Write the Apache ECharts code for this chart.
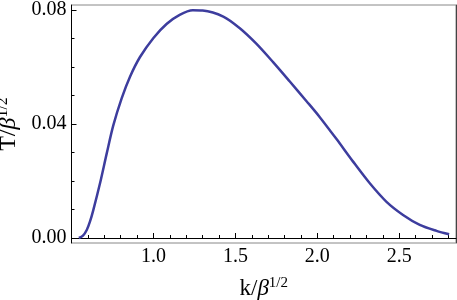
<!DOCTYPE html>
<html><head><meta charset="utf-8">
<script src="https://cdn.jsdelivr.net/npm/echarts@6/dist/echarts.min.js"></script>
<style>html,body{margin:0;padding:0;background:#fff}#c{width:457px;height:300px}</style>
</head><body><div id="c"></div>
<script>
// k / beta^(1/2)
const kValues = [0.545,0.57,0.593,0.613,0.633,0.674,0.715,0.755,0.806,0.857,0.918,1.00,1.08,1.16,1.24,1.30,1.426,1.527,1.629,1.73,1.832,1.934,2.015,2.117,2.218,2.32,2.422,2.523,2.625,2.727,2.804];
// T / beta^(1/2)
const tValues = [0.0000,0.0008,0.0028,0.0058,0.0098,0.0192,0.0297,0.0395,0.0490,0.0566,0.0635,0.0702,0.0751,0.0783,0.0799,0.0798,0.0777,0.0736,0.0681,0.0617,0.0549,0.0480,0.0424,0.0347,0.0268,0.0192,0.0127,0.0081,0.0046,0.0025,0.0013];
const xMajorTicks = [1.0,1.5,2.0,2.5];
const xMinorTicks = [0.6,0.7,0.8,0.9,1.1,1.2,1.3,1.4,1.6,1.7,1.8,1.9,2.1,2.2,2.3,2.4,2.6,2.7,2.8];
const yMajorTicks = [0.00,0.04,0.08];
const yMinorTicks = [0.01,0.02,0.03,0.05,0.06,0.07];

const X_MIN = 0.5, X_MAX = 2.846, Y_MIN = -0.00175, Y_MAX = 0.08175;
const FONT = 'Liberation Serif';
const chart = echarts.init(document.getElementById('c'));
const rich = (size, sup) => ({
  m:{fontFamily:FONT,fontSize:size,color:'#000'},
  i:{fontFamily:FONT,fontSize:size,fontStyle:'italic',color:'#000'},
  s:{fontFamily:FONT,fontSize:sup,color:'#000',padding:[0,0,Math.round(size*0.48),0]}
});
chart.setOption({
  animation:false,
  grid:{left:71.5,right:1,top:5,bottom:57,show:true,borderColor:'#888',borderWidth:1,outerBoundsMode:'none',containLabel:false},
  xAxis:[{
    type:'value',min:X_MIN,max:X_MAX,
    name:'{m|k/}{i|β}{s|1/2}',nameLocation:'middle',nameGap:33,
    nameTextStyle:{rich:rich(23,15)},
    axisLine:{show:true,lineStyle:{color:'#000',width:1}},
    axisTick:{show:true,inside:true,length:5,customValues:xMajorTicks,lineStyle:{color:'#000'}},
    axisLabel:{customValues:xMajorTicks,formatter:v=>v.toFixed(1),fontFamily:FONT,fontSize:20,color:'#000',margin:4},
    splitLine:{show:false}
  },{
    type:'value',min:X_MIN,max:X_MAX,position:'bottom',
    axisLine:{show:false},
    axisTick:{show:true,inside:true,length:3,customValues:xMinorTicks,lineStyle:{color:'#000'}},
    axisLabel:{show:false},splitLine:{show:false}
  }],
  yAxis:[{
    type:'value',min:Y_MIN,max:Y_MAX,
    name:'{m|T/}{i|β}{s|1/2}',nameLocation:'middle',nameGap:49,nameRotate:90,
    nameTextStyle:{rich:rich(24,16)},
    axisLine:{show:true,lineStyle:{color:'#000',width:1}},
    axisTick:{show:true,inside:true,length:5,customValues:yMajorTicks,lineStyle:{color:'#000'}},
    axisLabel:{customValues:yMajorTicks,formatter:v=>v.toFixed(2),fontFamily:FONT,fontSize:20,color:'#000',margin:5},
    splitLine:{show:false}
  },{
    type:'value',min:Y_MIN,max:Y_MAX,position:'left',
    axisLine:{show:false},
    axisTick:{show:true,inside:true,length:3,customValues:yMinorTicks,lineStyle:{color:'#000'}},
    axisLabel:{show:false},splitLine:{show:false}
  },{
    type:'value',min:Y_MIN,max:Y_MAX,position:'right',
    axisLine:{show:true,lineStyle:{color:'#444',width:1}},
    axisTick:{show:false},axisLabel:{show:false},splitLine:{show:false}
  }],
  series:[{
    type:'line',xAxisIndex:0,yAxisIndex:0,smooth:0.3,showSymbol:false,
    lineStyle:{color:'#3d3d9e',width:2.5},
    data:kValues.map((k,i)=>[k,tValues[i]])
  }]
});
</script></body></html>
